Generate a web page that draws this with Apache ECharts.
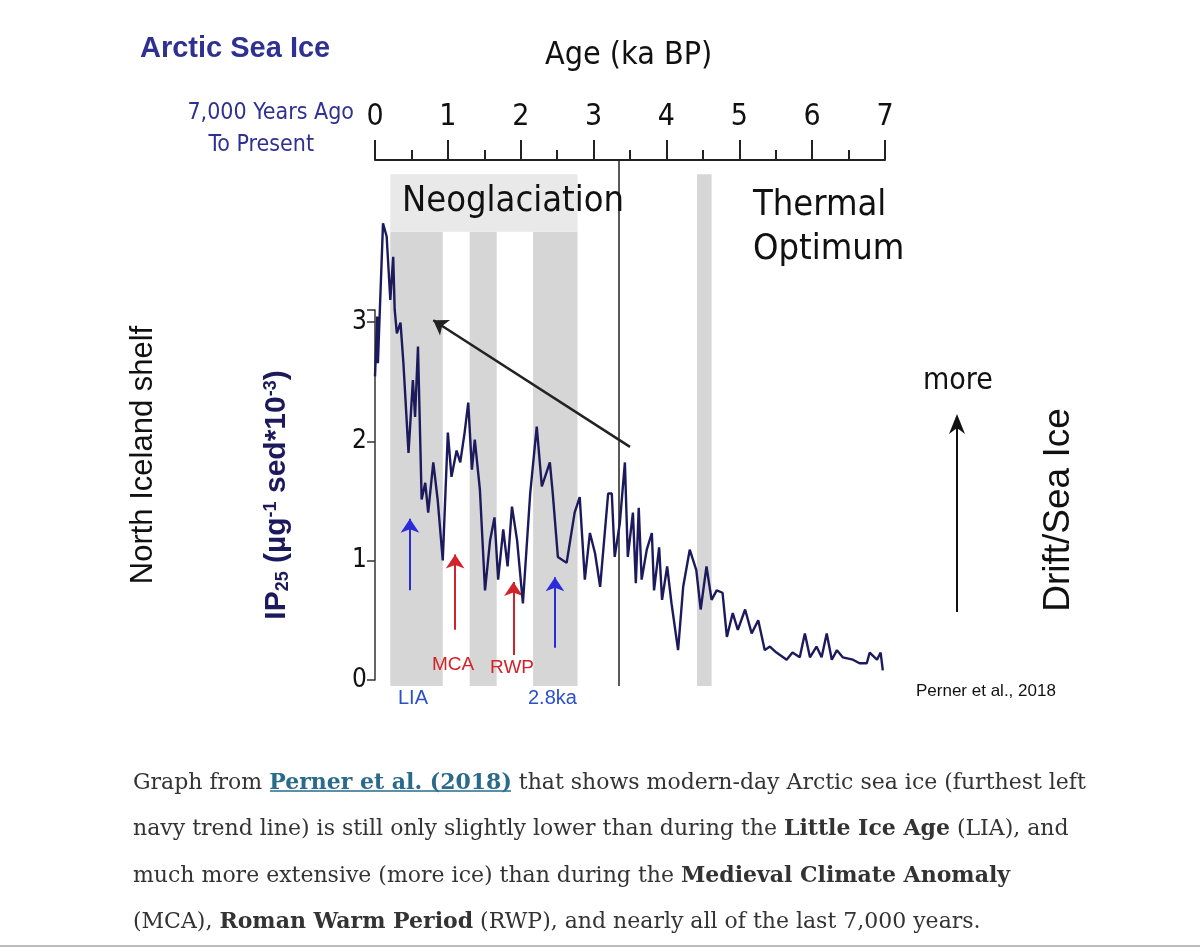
<!DOCTYPE html>
<html>
<head>
<meta charset="utf-8">
<script src="https://cdn.jsdelivr.net/npm/echarts@6/dist/echarts.min.js"></script>
<style>html,body{margin:0;background:#fff}#main{width:1200px;height:951px}</style>
</head>
<body>
<div id="main"></div>
<script>
// age (ka BP) and IP25 concentration
var ages = [0.0,0.03,0.04,0.11,0.16,0.21,0.25,0.27,0.30,0.35,0.39,0.46,0.52,0.55,0.59,0.64,0.69,0.73,0.80,0.86,0.93,1.00,1.05,1.12,1.17,1.23,1.28,1.33,1.37,1.44,1.51,1.58,1.64,1.69,1.76,1.82,1.88,1.95,2.03,2.13,2.22,2.29,2.40,2.44,2.51,2.63,2.74,2.81,2.88,2.95,3.02,3.09,3.20,3.25,3.29,3.36,3.43,3.47,3.54,3.58,3.62,3.66,3.73,3.80,3.83,3.90,3.94,4.01,4.07,4.16,4.23,4.32,4.41,4.47,4.55,4.62,4.69,4.77,4.83,4.91,4.98,5.08,5.17,5.26,5.35,5.42,5.51,5.65,5.73,5.83,5.90,5.97,6.06,6.13,6.20,6.27,6.34,6.42,6.56,6.65,6.75,6.79,6.89,6.94,6.97];
var ip25 = [2.54,3.04,2.65,3.82,3.71,3.18,3.54,3.10,2.90,2.99,2.65,1.90,2.51,2.20,2.79,1.51,1.65,1.40,1.82,1.51,1.00,2.07,1.70,1.92,1.82,2.07,2.32,1.76,2.01,1.59,0.75,1.17,1.36,0.84,1.26,0.95,1.45,1.17,0.64,1.56,2.12,1.62,1.82,1.56,1.03,0.98,1.40,1.53,0.84,1.23,1.06,0.78,1.56,1.56,1.03,1.31,1.82,1.03,1.40,0.81,1.44,0.84,1.09,1.23,0.75,1.11,0.67,0.95,0.64,0.25,0.78,1.09,0.92,0.59,0.95,0.67,0.75,0.73,0.36,0.56,0.42,0.59,0.39,0.50,0.25,0.28,0.23,0.17,0.23,0.19,0.39,0.19,0.28,0.19,0.39,0.17,0.25,0.19,0.17,0.14,0.14,0.23,0.17,0.23,0.08];
var bands = [[0.21,0.93],[1.30,1.67],[2.17,2.78],[4.42,4.62]];
var ageTicks = [0,1,2,3,4,5,6,7];
var valueTicks = [0,1,2,3];

var navy = '#1c1a5c', blue = '#2e3192', red = '#d2232a';
var narrow = '"Liberation Sans Narrow", "DejaVu Sans Condensed", sans-serif';
var chart = echarts.init(document.getElementById('main'));

var series = ages.map(function (a, i) { return [a, ip25[i]]; });

var bandAreas = bands.map(function (b) { return [{xAxis: b[0], yAxis: -0.05}, {xAxis: b[1], yAxis: 3.75}]; });
bandAreas[3][1].yAxis = 4.23;
bandAreas.push([{xAxis: bands[0][0], yAxis: 3.75, itemStyle: {color: '#e9e9e9'}}, {xAxis: bands[2][1], yAxis: 4.23}]);

function arrow(x, y0, y1, c) {
  return [{coord: [x, y0], lineStyle: {color: c, width: 2, type: 'solid'}, symbol: 'none'}, {coord: [x, y1], symbol: 'arrow'}];
}

chart.setOption({
  animation: false,
  grid: [
    {left: 375, right: 315, top: 160, bottom: 265},
    {left: 375, right: 315, top: 310, bottom: 271}
  ],
  xAxis: [
    {gridIndex: 0, type: 'value', position: 'top', min: 0, max: 7, interval: 1,
     axisLine: {onZero: false, lineStyle: {color: '#222', width: 2}},
     axisTick: {length: 20, lineStyle: {color: '#222', width: 2}},
     minorTick: {show: true, splitNumber: 2, length: 10, lineStyle: {color: '#222', width: 2}},
     splitLine: {show: false},
     axisLabel: {fontFamily: narrow, fontSize: 30, color: '#111', margin: 28,
                 formatter: function (v) { return ageTicks.indexOf(v) >= 0 ? v : ''; }}},
    {gridIndex: 1, type: 'value', min: 0, max: 7, show: false}
  ],
  yAxis: [
    {gridIndex: 0, type: 'value', min: -0.05, max: 4.35, show: false},
    {gridIndex: 1, type: 'value', min: 0, max: 3.1, interval: 1,
     axisLine: {show: true, lineStyle: {color: '#333', width: 1.5}},
     axisTick: {show: true, length: 8, lineStyle: {color: '#333', width: 1.5}},
     splitLine: {show: false},
     axisLabel: {fontFamily: narrow, fontSize: 26, color: '#111', margin: 8,
                 formatter: function (v) { return valueTicks.indexOf(v) >= 0 ? v : ''; }}}
  ],
  series: [
    {type: 'line', xAxisIndex: 0, yAxisIndex: 0, data: series, symbol: 'none',
     lineStyle: {color: navy, width: 2.4}, z: 5,
     markArea: {silent: true, itemStyle: {color: '#d6d6d6'}, data: bandAreas},
     markLine: {silent: true, symbolSize: 14, label: {show: false},
       data: [
         [{coord: [3.35, -0.05], symbol: 'none', lineStyle: {color: '#222', width: 1.5, type: 'solid'}}, {coord: [3.35, 4.35], symbol: 'none'}],
         [{coord: [3.50, 1.95], symbol: 'none', lineStyle: {color: '#222', width: 2.5, type: 'solid'}}, {coord: [0.80, 3.01], symbol: 'arrow'}],
         arrow(0.48, 0.75, 1.35, '#2b2bdc'),
         arrow(1.10, 0.42, 1.05, red),
         arrow(1.90, 0.21, 0.82, red),
         arrow(2.47, 0.27, 0.86, '#2b2bdc')
       ]}},
    {type: 'line', xAxisIndex: 1, yAxisIndex: 1, data: []}
  ],
  graphic: {elements: [
    {type: 'text', z: 100, left: 140, top: 34, style: {text: 'Arctic Sea Ice', font: 'bold 29px Arial, "Liberation Sans", sans-serif', fill: blue}},
    {type: 'text', z: 100, right: 846, top: 102, style: {text: '7,000 Years Ago', font: '23px ' + narrow, fill: blue}},
    {type: 'text', z: 100, right: 886, top: 134, style: {text: 'To Present', font: '23px ' + narrow, fill: blue}},
    {type: 'text', z: 100, left: 545, top: 40, style: {text: 'Age (ka BP)', font: '32px ' + narrow, fill: '#111'}},
    {type: 'text', z: 100, left: 402, top: 184, style: {text: 'Neoglaciation', font: '36px ' + narrow, fill: '#111'}},
    {type: 'text', z: 100, left: 753, top: 184, style: {text: 'Thermal\nOptimum', font: '36px ' + narrow, fill: '#111', lineHeight: 44, align: 'center'}},
    {type: 'text', z: 100, x: 128, y: 455, rotation: Math.PI / 2, style: {text: 'North Iceland shelf', font: '31px Arial, "Liberation Sans", sans-serif', fill: '#111', align: 'center', verticalAlign: 'top'}},
    {type: 'text', z: 100, x: 262, y: 495, rotation: Math.PI / 2, style: {
      text: '{b|IP}{s|25}{b| (µg}{p|-1}{b| sed*10}{p|-3}{b|)}', align: 'center', verticalAlign: 'top',
      rich: {b: {font: 'bold 30px Arial, "Liberation Sans", sans-serif', fill: navy},
             s: {font: 'bold 18px Arial, "Liberation Sans", sans-serif', fill: navy, verticalAlign: 'bottom', padding: [12, 0, 0, 0]},
             p: {font: 'bold 18px Arial, "Liberation Sans", sans-serif', fill: navy, verticalAlign: 'top', padding: [0, 0, 12, 0]}}}},
    {type: 'text', z: 100, left: 398, top: 688, style: {text: 'LIA', font: '20px Arial, sans-serif', fill: '#2b50c8'}},
    {type: 'text', z: 100, left: 432, top: 655, style: {text: 'MCA', font: '19px Arial, sans-serif', fill: red}},
    {type: 'text', z: 100, left: 490, top: 658, style: {text: 'RWP', font: '19px Arial, sans-serif', fill: red}},
    {type: 'text', z: 100, left: 528, top: 688, style: {text: '2.8ka', font: '20px Arial, sans-serif', fill: '#2b50c8'}},
    {type: 'text', z: 100, left: 923, top: 366, style: {text: 'more', font: '30px ' + narrow, fill: '#111'}},
    {type: 'line', z: 100, shape: {x1: 957, y1: 612, x2: 957, y2: 418}, style: {stroke: '#111', lineWidth: 2}},
    {type: 'polygon', z: 100, shape: {points: [[949, 434], [957, 414], [965, 434], [957, 428]]}, style: {fill: '#111'}},
    {type: 'text', z: 100, x: 1040, y: 510, rotation: Math.PI / 2, style: {text: 'Drift/Sea Ice', font: '37px Arial, "Liberation Sans", sans-serif', fill: '#111', align: 'center', verticalAlign: 'top'}},
    {type: 'text', z: 100, left: 916, top: 683, style: {text: 'Perner et al., 2018', font: '17px Arial, sans-serif', fill: '#111'}},
    {type: 'text', z: 100, left: 133, top: 760, style: {
      text: 'Graph from {l|Perner et al. (2018)} that shows modern-day Arctic sea ice (furthest left\n' +
            'navy trend line) is still only slightly lower than during the {b|Little Ice Age} (LIA), and\n' +
            'much more extensive (more ice) than during the {b|Medieval Climate Anomaly}\n' +
            '(MCA), {b|Roman Warm Period} (RWP), and nearly all of the last 7,000 years.',
      font: '22px "DejaVu Serif", "Liberation Serif", serif', fill: '#333', lineHeight: 46.5,
      rich: {l: {font: 'bold 22px "DejaVu Serif", "Liberation Serif", serif', fill: '#2a6a8a'},
             b: {font: 'bold 22px "DejaVu Serif", "Liberation Serif", serif', fill: '#333'}}}},
    {type: 'line', z: 100, shape: {x1: 270, y1: 791, x2: 511, y2: 791}, style: {stroke: '#2a6a8a', lineWidth: 1.5}},
    {type: 'line', z: 100, shape: {x1: 0, y1: 946, x2: 1200, y2: 946}, style: {stroke: '#bbb', lineWidth: 2}}
  ]}
});
</script>
</body>
</html>
